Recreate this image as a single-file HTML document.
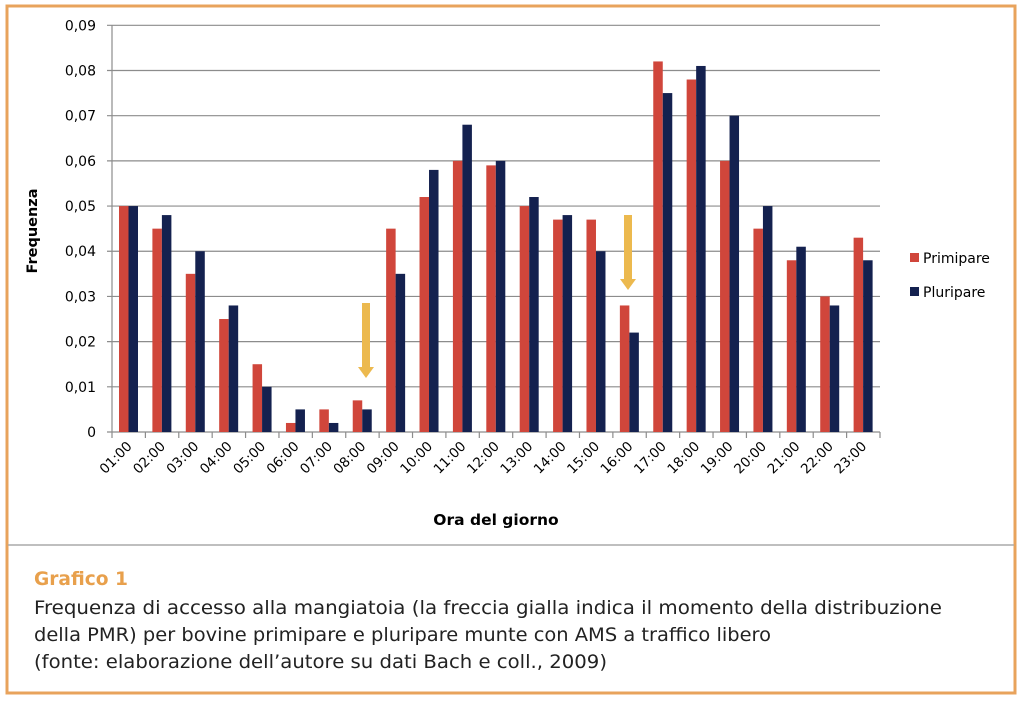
<!DOCTYPE html>
<html><head><meta charset="utf-8"><style>
body{margin:0;background:#fff;}
svg{display:block;font-family:"DejaVu Sans","Liberation Sans",sans-serif;}
</style></head><body>
<svg id="s" width="1024" height="701" xmlns="http://www.w3.org/2000/svg">
<rect x="7" y="6" width="1008" height="687" fill="#fff" stroke="#e8a35c" stroke-width="3"/>
<line x1="8" y1="545" x2="1014" y2="545" stroke="#aaa" stroke-width="1.5"/>
<g id="g"></g>
<text x="33" y="231" transform="rotate(-90 33 231)" text-anchor="middle" font-size="14.5" font-weight="bold" dominant-baseline="middle">Frequenza</text>
<text x="496" y="525" text-anchor="middle" font-size="15.5" font-weight="bold">Ora del giorno</text>
<rect x="910" y="253" width="9" height="9" fill="#d0463b"/>
<text x="923" y="263" font-size="14">Primipare</text>
<rect x="910" y="287" width="9" height="9" fill="#14214f"/>
<text x="923" y="297" font-size="14">Pluripare</text>
<g fill="#ecb94e">
<rect x="362" y="303" width="8" height="65"/><polygon points="358,367 374,367 366,378"/>
<rect x="624" y="215" width="8" height="65"/><polygon points="620,279 636,279 628,290"/>
</g>
<text x="34" y="585" font-size="19" font-weight="bold" fill="#e8a04c" textLength="94" lengthAdjust="spacingAndGlyphs">Grafico 1</text>
<text x="34" y="614" font-size="19" fill="#222" textLength="908" lengthAdjust="spacingAndGlyphs">Frequenza di accesso alla mangiatoia (la freccia gialla indica il momento della distribuzione</text>
<text x="34" y="641" font-size="19" fill="#222" textLength="737" lengthAdjust="spacingAndGlyphs">della PMR) per bovine primipare e pluripare munte con AMS a traffico libero</text>
<text x="34" y="668" font-size="19" fill="#222" textLength="573" lengthAdjust="spacingAndGlyphs">(fonte: elaborazione dell’autore su dati Bach e coll., 2009)</text>
</svg>
<script>
var g=document.getElementById('g'),h='';
var P=[.050,.045,.035,.025,.015,.002,.005,.007,.045,.052,.060,.059,.050,.047,.047,.028,.082,.078,.060,.045,.038,.030,.043];
var Q=[.050,.048,.040,.028,.010,.005,.002,.005,.035,.058,.068,.060,.052,.048,.040,.022,.075,.081,.070,.050,.041,.028,.038];
var x0=112,x1=880,y0=432,k=4519,w=(x1-x0)/23;
for(var j=0;j<=9;j++){var y=y0-j*45.19;
h+='<line x1="'+(x0-5)+'" y1="'+y+'" x2="'+x1+'" y2="'+y+'" stroke="#8c8c8c" stroke-width="1.2"/>';
h+='<text x="96" y="'+(y+5)+'" text-anchor="end" font-size="14">'+(j==0?'0':'0,0'+j)+'</text>';}
for(var i=0;i<23;i++){var x=x0+i*w;
h+='<rect x="'+(x+7)+'" y="'+(y0-P[i]*k)+'" width="9.5" height="'+(P[i]*k)+'" fill="#d0463b"/>';
h+='<rect x="'+(x+16.5)+'" y="'+(y0-Q[i]*k)+'" width="9.5" height="'+(Q[i]*k)+'" fill="#14214f"/>';
var c=x+w/2+4,hh=(i+1<10?'0':'')+(i+1)+':00';
h+='<text x="'+c+'" y="447" text-anchor="end" font-size="13.5" transform="rotate(-45 '+c+' 447)">'+hh+'</text>';}
for(var i=0;i<=23;i++){var x=x0+i*w;h+='<line x1="'+x+'" y1="'+y0+'" x2="'+x+'" y2="'+(y0+6)+'" stroke="#8c8c8c" stroke-width="1.2"/>';}
h+='<line x1="'+x0+'" y1="25" x2="'+x0+'" y2="'+y0+'" stroke="#8c8c8c" stroke-width="1.2"/>';
g.innerHTML=h;
</script>
</body></html>
